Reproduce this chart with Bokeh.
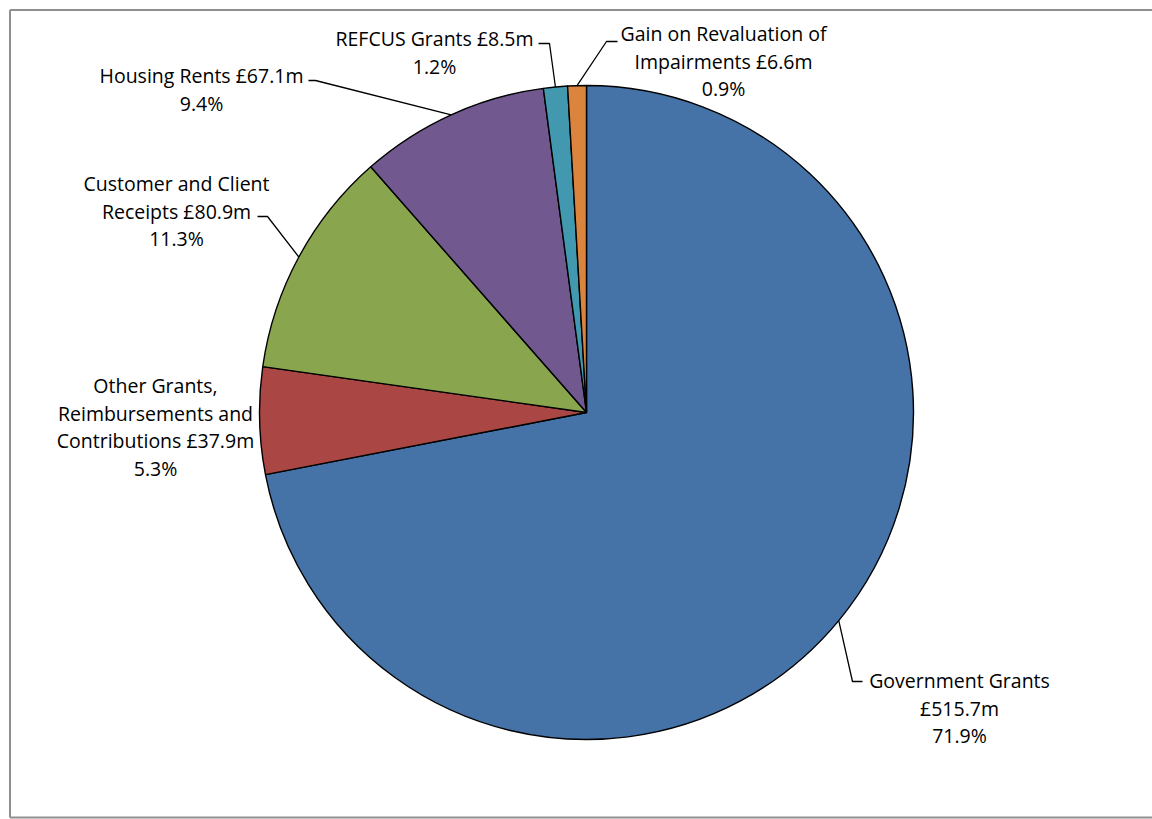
import math
from bokeh.plotting import figure
from bokeh.models import Range1d
from bokeh.core.properties import value
from bokeh.embed import file_html
from bokeh.resources import INLINE

# ---------------- data ----------------
categories = ["Government Grants",
              "Other Grants, Reimbursements and Contributions",
              "Customer and Client Receipts",
              "Housing Rents",
              "REFCUS Grants",
              "Gain on Revaluation of Impairments"]
values_m = [515.7, 37.9, 80.9, 67.1, 8.5, 6.6]
percents = [71.9, 5.3, 11.3, 9.4, 1.2, 0.9]
colors = ["#4572A7", "#AA4643", "#89A54E", "#71588F", "#4198AF", "#DB843D"]

# label line breaks (layout)
name_lines = [["Government Grants"],
              ["Other Grants,", "Reimbursements and", "Contributions"],
              ["Customer and Client", "Receipts"],
              ["Housing Rents"],
              ["REFCUS Grants"],
              ["Gain on Revaluation of", "Impairments"]]
# whether the amount goes on its own line
amount_own_line = [True, False, False, False, False, False]

# ---------------- layout ----------------
W, H = 1152, 819


def Y(py):
    return H - py


CX, CY, R = 586, Y(412), 327
FONT = value("Open Sans")
FS = "19.5px"
LINE_H = 27.5

# label centre x, first line centre y (page coords)
label_pos = [(959, 680), (155, 385), (176, 183), (201, 75), (434, 38), (723, 33)]
# leader polyline after the pie edge point (page coords); None => no leader
leader_pts = [[(852, 681), (862, 681)],
              None,
              [(267, 216), (257, 216)],
              [(315, 80), (308, 80)],
              [(549, 43), (538, 43)],
              [(606, 41), (617, 41)]]

p = figure(width=W, height=H, x_range=Range1d(0, W), y_range=Range1d(0, H),
           output_backend="svg", toolbar_location=None, min_border=0)
p.axis.visible = False
p.grid.visible = False
p.outline_line_color = None
p.background_fill_color = "white"
p.border_fill_color = "white"

# frame border (left, top, bottom; right side runs off the page)
p.multi_line(xs=[[9.5, 9.5], [9.5, 1160], [9.5, 1160]],
             ys=[[Y(9.5), Y(817)], [Y(9.5), Y(9.5)], [Y(817), Y(817)]],
             line_color="#8f8f8f", line_width=2)

total = sum(values_m)
starts, ends, mids = [], [], []
cum = 0.0
for v in values_m:
    a0 = math.pi / 2 - 2 * math.pi * cum / total
    cum += v
    a1 = math.pi / 2 - 2 * math.pi * cum / total
    starts.append(a0)
    ends.append(a1)
    mids.append((a0 + a1) / 2)

p.wedge(x=CX, y=CY, radius=R, start_angle=starts, end_angle=ends,
        direction="clock", fill_color=colors, line_color="black", line_width=1.4)

# leaders
for i, pts in enumerate(leader_pts):
    if pts is None:
        continue
    ex = CX + R * math.cos(mids[i])
    ey = CY + R * math.sin(mids[i])
    xs = [ex] + [q[0] for q in pts]
    ys = [ey] + [Y(q[1]) for q in pts]
    p.line(xs, ys, line_color="black", line_width=1.3)

# labels
for i in range(len(categories)):
    amt = f"£{values_m[i]:.1f}m"
    lines = list(name_lines[i])
    if amount_own_line[i]:
        lines.append(amt)
    else:
        lines[-1] = lines[-1] + " " + amt
    lines.append(f"{percents[i]:.1f}%")
    lx, ly = label_pos[i]
    for k, t in enumerate(lines):
        p.text(x=[lx], y=[Y(ly + k * LINE_H)], text=[t], text_font=FONT,
               text_font_size=FS, text_align="center", text_baseline="middle",
               text_color="black")

open("out.html", "w").write(file_html(p, INLINE))
